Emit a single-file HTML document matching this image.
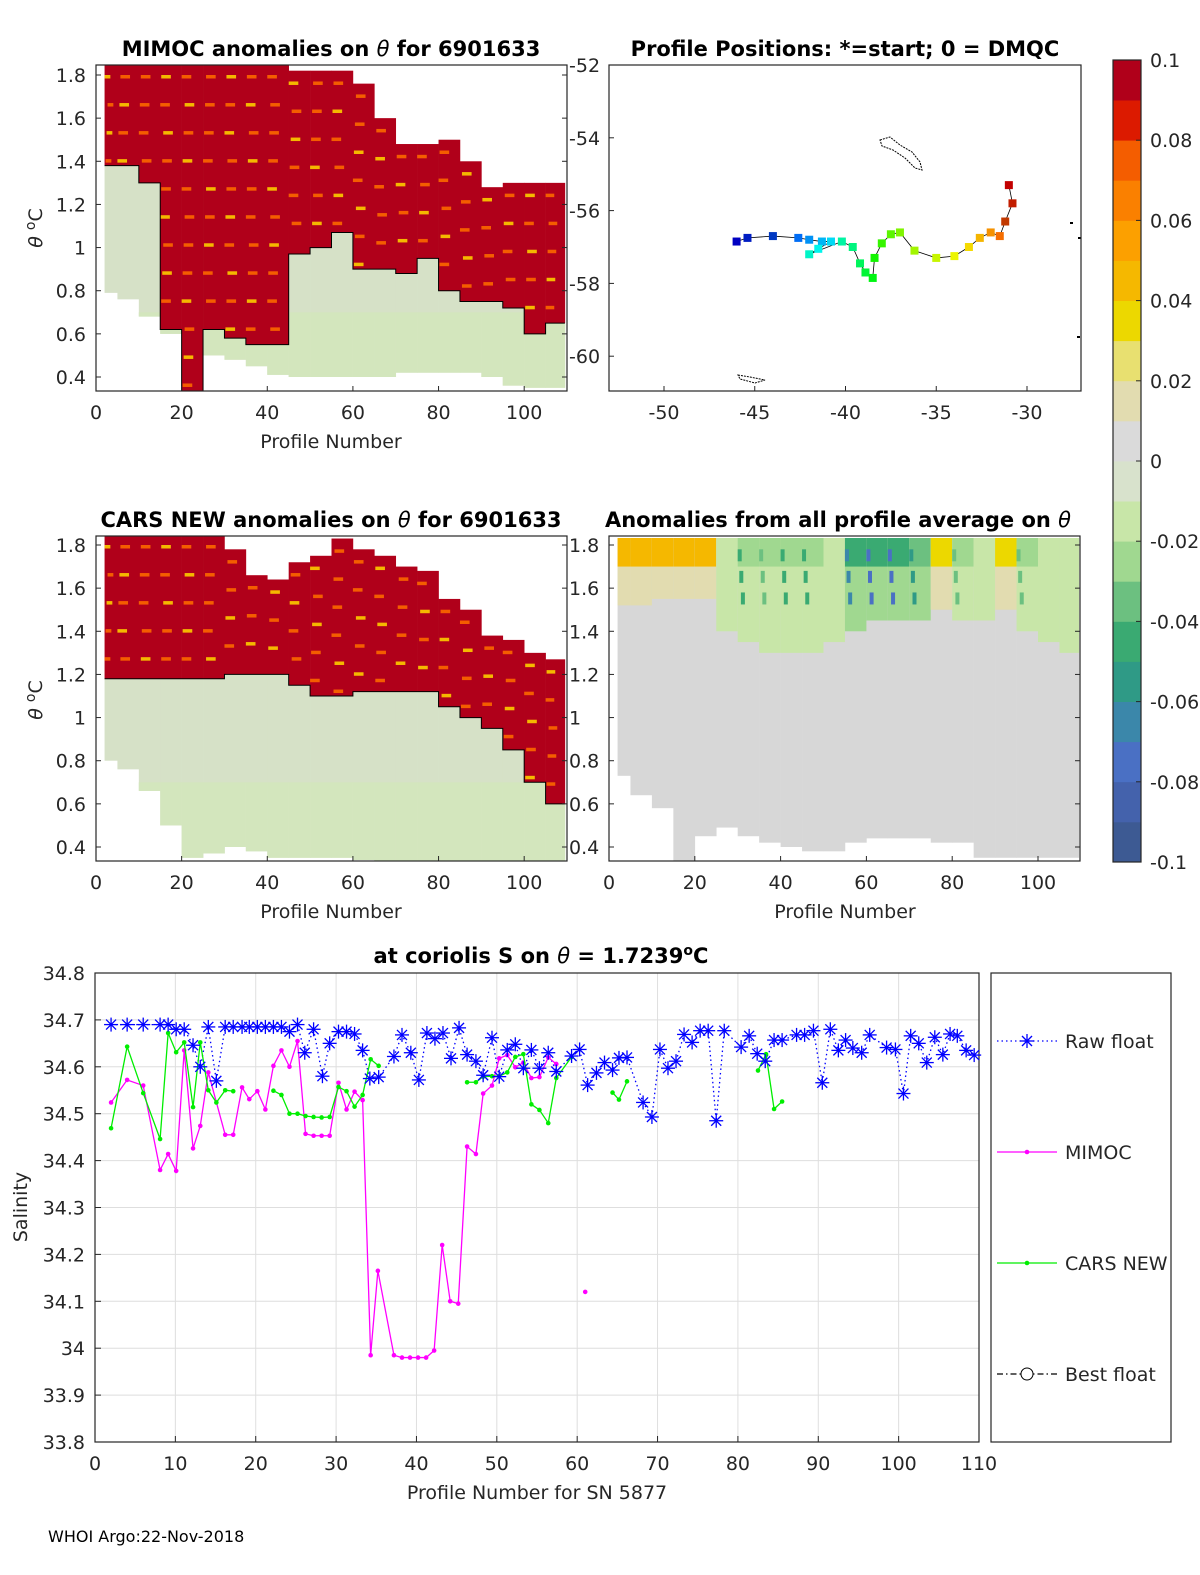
<!DOCTYPE html>
<html><head><meta charset="utf-8">
<style>
html,body{margin:0;padding:0;background:#fff;}
svg{display:block;font-family:"DejaVu Sans","Liberation Sans",sans-serif;}
.t{font-size:19px;fill:#262626;}
.ti{font-size:21px;font-weight:bold;fill:#000;}
</style></head>
<body>
<svg id="fig" width="1200" height="1575" viewBox="0 0 1200 1575" xmlns="http://www.w3.org/2000/svg">
<text class="ti" x="331" y="56" text-anchor="middle">MIMOC anomalies on <tspan font-style="italic" font-weight="normal">θ</tspan>  for 6901633</text>
<text class="ti" x="845" y="56" text-anchor="middle">Profile Positions: *=start; 0 = DMQC</text>
<text class="ti" x="331" y="527" text-anchor="middle">CARS NEW anomalies on <tspan font-style="italic" font-weight="normal">θ</tspan> for 6901633</text>
<text class="ti" x="838" y="527" text-anchor="middle">Anomalies from all profile average on <tspan font-style="italic" font-weight="normal">θ</tspan></text>
<text class="ti" x="541" y="963" text-anchor="middle">at coriolis S on <tspan font-style="italic" font-weight="normal">θ</tspan> = 1.7239<tspan dy="-8" font-size="14">o</tspan><tspan dy="8">C</tspan></text>
<text class="t" x="331" y="448" text-anchor="middle" font-size="21">Profile Number</text>
<text class="t" x="331" y="918" text-anchor="middle" font-size="21">Profile Number</text>
<text class="t" x="845" y="918" text-anchor="middle" font-size="21">Profile Number</text>
<text class="t" transform="translate(42,228) rotate(-90)" text-anchor="middle" font-size="21"><tspan font-style="italic">θ</tspan> <tspan dy="-7" font-size="14">o</tspan><tspan dy="7">C</tspan></text>
<text class="t" transform="translate(42,700) rotate(-90)" text-anchor="middle" font-size="21"><tspan font-style="italic">θ</tspan> <tspan dy="-7" font-size="14">o</tspan><tspan dy="7">C</tspan></text>
<text class="t" transform="translate(27,1207) rotate(-90)" text-anchor="middle" font-size="21">Salinity</text>
<text class="t" x="537" y="1499" text-anchor="middle" font-size="21">Profile Number for SN 5877</text>
<text x="48" y="1542" font-size="16" fill="#000">WHOI Argo:22-Nov-2018</text>
<g id="layer"></g>
</svg>
<script>
// ---------- data ----------
const binStarts=[0,5,10,15,20,25,30,35,40,45,50,55,60,65,70,75,80,85,90,95,100,105];
const p1Top=[1.85,1.85,1.85,1.85,1.85,1.85,1.85,1.85,1.85,1.82,1.82,1.82,1.76,1.6,1.48,1.48,1.5,1.4,1.28,1.3,1.3,1.3];
const p1Bottom=[0.79,0.76,0.68,0.6,0.33,0.5,0.48,0.45,0.41,0.4,0.4,0.4,0.4,0.4,0.42,0.42,0.42,0.42,0.4,0.36,0.35,0.35];
const p1Red=[1.38,1.38,1.3,0.62,0.33,0.62,0.58,0.55,0.55,0.97,1.0,1.07,0.9,0.9,0.88,0.95,0.8,0.75,0.75,0.72,0.6,0.65];
const p3Top=[1.85,1.85,1.85,1.85,1.85,1.85,1.78,1.66,1.64,1.72,1.75,1.83,1.78,1.75,1.7,1.68,1.55,1.5,1.38,1.36,1.3,1.27];
const p3Bottom=[0.8,0.76,0.66,0.5,0.35,0.37,0.4,0.38,0.35,0.35,0.35,0.35,0.34,0.33,0.33,0.33,0.33,0.33,0.33,0.33,0.33,0.33];
const p3Red=[1.18,1.18,1.18,1.18,1.18,1.18,1.2,1.2,1.2,1.15,1.1,1.1,1.12,1.12,1.12,1.12,1.05,1.0,0.95,0.85,0.7,0.6];
const p4Bottom=[0.73,0.64,0.58,0.33,0.45,0.49,0.45,0.42,0.4,0.38,0.38,0.42,0.44,0.44,0.44,0.42,0.42,0.35,0.35,0.35,0.35,0.35];
const p4TopVal=[0.045,0.045,0.045,0.045,0.045,-0.03,-0.05,-0.04,-0.05,-0.05,-0.03,-0.07,-0.08,-0.08,-0.06,0.03,-0.04,-0.03,0.03,-0.04,-0.03,-0.03];
const p4BandBottom=[1.52,1.52,1.55,1.55,1.55,1.4,1.35,1.3,1.3,1.3,1.35,1.4,1.45,1.45,1.45,1.5,1.45,1.45,1.5,1.4,1.35,1.3];
const trackLon=[-46.0,-45.4,-44.0,-42.6,-42.0,-41.3,-40.8,-41.5,-42.0,-40.2,-39.6,-39.2,-38.9,-38.5,-38.4,-38.0,-37.5,-37.0,-36.2,-35.0,-34.0,-33.2,-32.6,-32.0,-31.5,-31.2,-30.8,-31.0];
const trackLat=[-56.85,-56.75,-56.7,-56.75,-56.8,-56.85,-56.85,-57.05,-57.2,-56.85,-57.0,-57.45,-57.7,-57.85,-57.3,-56.9,-56.65,-56.6,-57.1,-57.3,-57.25,-57.0,-56.75,-56.6,-56.7,-56.3,-55.8,-55.3];
const catTicks=[0,10,20,30,40,50,60,70,80,90,100,110];
const salTicks=[33.8,33.9,34,34.1,34.2,34.3,34.4,34.5,34.6,34.7,34.8];
const rawX=[2,4,6,8.1,9.1,10.1,11.1,12.2,13.1,14.1,15.1,16.2,17.2,18.3,19.2,20.2,21.2,22.2,23.2,24.2,25.2,26.1,27.2,28.3,29.2,30.3,31.3,32.3,33.3,34.2,35.3,37.2,38.2,39.3,40.3,41.3,42.3,43.3,44.3,45.3,46.3,47.4,48.3,49.4,50.3,51.3,52.3,53.3,54.3,55.3,56.4,57.4,59.3,60.3,61.3,62.4,63.4,64.4,65.2,66.2,68.2,69.3,70.3,71.3,72.3,73.3,74.3,75.3,76.3,77.3,78.3,80.4,81.4,82.4,83.4,84.5,85.5,87.3,88.3,89.4,90.5,91.5,92.5,93.4,94.3,95.4,96.4,98.5,99.6,100.6,101.5,102.5,103.5,104.5,105.5,106.4,107.3,108.4,109.4];
const rawS=[34.69,34.69,34.69,34.69,34.69,34.68,34.68,34.646,34.6,34.685,34.57,34.685,34.685,34.685,34.685,34.685,34.685,34.685,34.685,34.675,34.69,34.63,34.68,34.58,34.65,34.675,34.675,34.67,34.635,34.575,34.578,34.622,34.668,34.63,34.572,34.672,34.66,34.672,34.618,34.683,34.626,34.612,34.582,34.662,34.579,34.636,34.648,34.597,34.636,34.597,34.63,34.59,34.623,34.637,34.561,34.587,34.609,34.593,34.619,34.62,34.524,34.493,34.637,34.597,34.612,34.669,34.652,34.677,34.677,34.485,34.677,34.642,34.666,34.628,34.612,34.657,34.657,34.668,34.668,34.677,34.566,34.68,34.635,34.657,34.64,34.63,34.668,34.641,34.637,34.543,34.666,34.65,34.609,34.663,34.626,34.67,34.666,34.635,34.625];
const mimX=[2,4,6,8.1,9.1,10.1,11.1,12.2,13.1,14.1,16.2,17.2,18.3,19.2,20.2,21.2,22.2,23.2,24.2,25.2,26.2,27.2,28.2,29.2,30.3,31.3,32.3,33.3,34.3,35.2,37.2,38.2,39.2,40.2,41.2,42.2,43.2,44.2,45.2,46.3,47.4,48.3,49.4,50.3,51.3,52.3,53.3,54.3,55.3,56.4,57.4,null,61.0];
const mimS=[34.524,34.572,34.56,34.38,34.414,34.378,34.635,34.426,34.474,34.588,34.455,34.455,34.556,34.531,34.548,34.509,34.602,34.635,34.6,34.655,34.457,34.453,34.453,34.453,34.566,34.509,34.547,34.529,33.985,34.165,33.985,33.98,33.98,33.98,33.98,33.995,34.22,34.1,34.095,34.43,34.414,34.543,34.56,34.618,34.625,34.599,34.609,34.576,34.578,34.62,34.606,null,34.12];
const carsX=[2,4,6,8.1,9.1,10.1,11.1,12.2,13.1,14.1,15.1,16.2,17.2,null,22.2,23.2,24.2,25.2,26.2,27.2,28.2,29.2,30.3,31.3,32.3,33.3,34.3,35.3,null,46.3,47.4,48.3,49.4,50.3,51.3,52.3,53.3,54.3,55.3,56.4,57.4,59.3,null,64.4,65.2,66.2,null,82.5,83.5,84.5,85.5];
const carsS=[34.469,34.643,34.544,34.446,34.672,34.631,34.652,34.514,34.652,34.55,34.524,34.55,34.548,null,34.549,34.54,34.5,34.5,34.495,34.493,34.492,34.493,34.557,34.548,34.515,34.54,34.616,34.602,null,34.567,34.567,34.579,34.58,34.58,34.588,34.621,34.627,34.52,34.508,34.48,34.576,34.621,null,34.545,34.53,34.569,null,34.592,34.627,34.51,34.526];

// ---------- helpers ----------
const NS="http://www.w3.org/2000/svg";
const layer=document.getElementById('layer');
function mk(tag,attrs,parent){const e=document.createElementNS(NS,tag);for(const k in attrs)e.setAttribute(k,attrs[k]);(parent||layer).appendChild(e);return e;}
const cmap=['#3d5a93','#4462ac','#4a70c4','#3b87aa','#2f9a86','#3aaa72','#6cc080','#a0d890','#c8e6a8','#d8e2cc','#dadada','#e2dcb0','#e8e070','#ecd800','#f5b800','#fca000','#fa8000','#f45d00','#dc1a00','#b0001a'];
function col(v){let i=Math.floor((v+0.1)/0.01);i=Math.max(0,Math.min(19,i));return cmap[i];}

function panel(x0,x1,y0,y1,name){
  const g=mk('g',{});
  
  
  return g;
}
function frame(g,x0,y0,x1,y1){mk('rect',{x:x0,y:y0,width:x1-x0,height:y1-y0,fill:'none',stroke:'#262626','stroke-width':1.2},g);}

// ---------- anomaly panels ----------
function anomalyPanel(name,L,R,T,B,yA,yB,tops,bots,reds,leftLabels){
  const g=panel(L,R,T,B,name);
  const xs=p=>L+p*(R-L)/110;
  const ys=t=>yA+(1.8-t)*(yB-yA)/1.4;
  const clampY=y=>Math.max(T,Math.min(B,y));
  const cells=mk('g',{},g);
  
  
  let line=[];
  binStarts.forEach((b,i)=>{
    const p0=Math.max(b,2), p1=Math.min(b+5,109.5);
    const x=xs(p0), w=xs(p1)-x;
    const yt=clampY(ys(tops[i])), yb=clampY(ys(bots[i]));
    const yr=clampY(ys(reds[i]));
    const c1=mk('rect',{x:x,y:yr,width:w+0.3,height:Math.max(0,yb-yr),fill:'#d6e1c7'},cells);
    
    
    const lowG=clampY(ys(0.7));
    if(lowG<yb){const c3=mk('rect',{x:x,y:Math.max(lowG,yr),width:w+0.3,height:Math.max(0,yb-Math.max(lowG,yr)),fill:'#d3e6bd'},cells);
      
      }
    const c2=mk('rect',{x:x,y:yt,width:w+0.3,height:Math.max(0,yr-yt),fill:'#b0001a'},cells);
    
    
    // orange speckle rows
    for(let t=tops[i]-0.05;t>reds[i]+0.03;t-=0.13){
      const yy=ys(t); if(yy<T||yy>B) continue;
      const s=mk('rect',{x:x+((i*7+Math.round(t*100))%4),y:yy,width:w*0.45,height:3.5,fill:((i+Math.round(t*10))%3==0)?'#f5b800':'#f45d00'},cells);
      
      
    }
    line.push([x,yr],[x+w,yr]);
  });
  mk('polyline',{points:line.map(p=>p.join(',')).join(' '),fill:'none',stroke:'#000','stroke-width':1},g);
  frame(g,L,T,R,B);
  axesTicks(g,L,R,T,B,xs,ys,leftLabels);
}
function axesTicks(g,L,R,T,B,xs,ys,leftLabels){
  [0,20,40,60,80,100].forEach(v=>{
    const x=xs(v);
    mk('line',{x1:x,y1:B,x2:x,y2:B-5,stroke:'#262626'},g);
    const t=mk('text',{x:x,y:B+28,'text-anchor':'middle',class:'t'},g);t.textContent=v;
    
    
  });
  [0.4,0.6,0.8,1,1.2,1.4,1.6,1.8].forEach(v=>{
    const y=ys(v);
    mk('line',{x1:L,y1:y,x2:L+5,y2:y,stroke:'#262626'},g);
    mk('line',{x1:R,y1:y,x2:R-5,y2:y,stroke:'#262626'},g);
    const t=mk('text',{x:leftLabels?L-10:L-38,y:y+7,'text-anchor':leftLabels?'end':'start',class:'t'},g);
    t.textContent=(v===1?'1':v.toFixed(1));
    if(!leftLabels) t.setAttribute('x',L-40);
    
    
  });
}
anomalyPanel('mimoc-anomaly-panel',96,567,65,391,75,377,p1Top,p1Bottom,p1Red,true);
anomalyPanel('cars-anomaly-panel',96,567,536,861,545,847,p3Top,p3Bottom,p3Red,true);

// panel 4
(function(){
  const L=609,R=1080,T=536,B=861;
  const g=panel(L,R,T,B,'avg-anomaly-panel');
  const xs=p=>L+p*(1038-609)/100;
  const ys=t=>545+(1.8-t)*(847-545)/1.4;
  const clampY=y=>Math.max(T,Math.min(B,y));
  binStarts.forEach((b,i)=>{
    const p0=Math.max(b,2), p1=Math.min(b+5,109.5);
    const x=xs(p0), w=xs(p1)-x;
    const yb=clampY(ys(p4Bottom[i])), yt=T+2;
    const c=mk('rect',{x:x,y:yt,width:w+0.3,height:yb-yt,fill:'#d7d7d7'},g);
    
    
    const yBand=clampY(ys(p4BandBottom[i]));
    const c2=mk('rect',{x:x,y:yt,width:w+0.3,height:yBand-yt,fill:col(p4TopVal[i]*0.35)},g);
    
    
    const c3=mk('rect',{x:x,y:yt,width:w+0.3,height:clampY(ys(1.7))-yt,fill:col(p4TopVal[i]*(p4TopVal[i]>0?1:0.6))},g);
    
    
    if(p4TopVal[i]<-0.035){
      for(let k=0;k<3;k++){
        const bc=mk('rect',{x:x+k*1.6,y:ys(1.78-k*0.1),width:4,height:12,fill:col(p4TopVal[i])},g);
        
        
      }
    }
  });
  frame(g,L,T,R,B);
  axesTicks(g,L,R,T,B,xs,ys,false);
})();

// map panel
(function(){
  const L=609,R=1081,T=65,B=391;
  const g=panel(L,R,T,B,'profile-map-panel');
  const xs=lon=>664+(lon+50)*18.15;
  const ys=lat=>65+(-52-lat)*36.4;
  mk('polyline',{points:trackLon.map((lo,i)=>xs(lo)+','+ys(trackLat[i])).join(' '),fill:'none',stroke:'#000','stroke-width':0.8},g);
  const jet=['#0000a0','#0010d0','#0040ff','#0070ff','#00a0ff','#00d0ff','#20f0e0','#60ff a0','#a0ff60','#e0ff20','#ffd000','#ffa000','#ff6000','#ff2000','#d00000','#a00000'];
  trackLon.forEach((lo,i)=>{
    const f=i/(trackLon.length-1);
    const h=240-240*f;
    const r=mk('rect',{x:xs(lo)-4,y:ys(trackLat[i])-4,width:8,height:8,fill:`hsl(${h},100%,${f>0.9||f<0.1?38:48}%)`},g);
    
    
  });
  mk('path',{d:'M880,140 L890,137 L900,145 L912,152 L920,162 L922,170 L915,168 L905,158 L893,150 L882,146 Z',fill:'none',stroke:'#000','stroke-width':1,'stroke-dasharray':'2 1'},g);
  mk('path',{d:'M738,375 L750,377 L765,380 L755,383 L740,379 Z',fill:'none',stroke:'#000','stroke-width':1,'stroke-dasharray':'2 1'},g);
  [[1070,222],[1078,237],[1077,336]].forEach(p=>mk('rect',{x:p[0],y:p[1],width:3,height:2,fill:'#000'},g));
  frame(g,L,T,R,B);
  [-50,-45,-40,-35,-30].forEach(v=>{
    const x=xs(v);
    mk('line',{x1:x,y1:B,x2:x,y2:B-5,stroke:'#262626'},g);
    const t=mk('text',{x:x,y:B+28,'text-anchor':'middle',class:'t'},g);t.textContent=v;
    
    
  });
  [-52,-54,-56,-58,-60].forEach(v=>{
    const y=ys(v);
    mk('line',{x1:L,y1:y,x2:L+5,y2:y,stroke:'#262626'},g);
    const t=mk('text',{x:L-40,y:y+7,class:'t'},g);t.textContent=v;
    
    
  });
})();

// colorbar
(function(){
  const g=panel(0,0,0,0,'colorbar');
  const T=60,B=862,L=1113,W=28;
  cmap.forEach((c,i)=>{
    const h=(B-T)/20;
    const r=mk('rect',{x:L,y:B-(i+1)*h,width:W,height:h+0.4,fill:c},g);
    
    
  });
  frame(g,L,T,L+W,B);
  const labs=['-0.1','-0.08','-0.06','-0.04','-0.02','0','0.02','0.04','0.06','0.08','0.1'];
  labs.forEach((s,i)=>{
    const y=B-i*(B-T)/10;
    mk('line',{x1:L+W,y1:y,x2:L+W-5,y2:y,stroke:'#262626'},g);
    const t=mk('text',{x:1150,y:y+7,class:'t'},g);t.textContent=s;
    
    
  });
})();

// salinity chart
(function(){
  const L=95,R=979,T=973,B=1442;
  const g=panel(L,R,T,B,'salinity-chart');
  const xs=v=>L+v*(R-L)/110;
  const ys=v=>B-(v-33.8)*(B-T)/1.0;
  catTicks.forEach(v=>{
    const x=xs(v);
    mk('line',{x1:x,y1:T,x2:x,y2:B,stroke:'#dedede'},g);
    mk('line',{x1:x,y1:B,x2:x,y2:B-6,stroke:'#262626'},g);
    const t=mk('text',{x:x,y:B+28,'text-anchor':'middle',class:'t'},g);t.textContent=v;
    
    
  });
  salTicks.forEach(v=>{
    const y=ys(v);
    mk('line',{x1:L,y1:y,x2:R,y2:y,stroke:'#dedede'},g);
    mk('line',{x1:L,y1:y,x2:L+6,y2:y,stroke:'#262626'},g);
    const t=mk('text',{x:L-10,y:y+7,'text-anchor':'end',class:'t'},g);
    t.textContent=(Math.abs(v-34)<1e-9)?'34':v.toFixed(1);
    
    
  });
  frame(g,L,T,R,B);
  function segs(X,Y){const out=[];let cur=[];X.forEach((x,i)=>{if(x===null||Y[i]===null){if(cur.length)out.push(cur);cur=[];}else cur.push([xs(x),ys(Y[i])]);});if(cur.length)out.push(cur);return out;}
  // raw float
  const rl=mk('polyline',{points:rawX.map((x,i)=>xs(x)+','+ys(rawS[i])).join(' '),fill:'none',stroke:'#0000ff','stroke-width':1.3,'stroke-dasharray':'1.5 3'},g);
  
  
  // magenta
  segs(mimX,mimS).forEach(s=>{
    const p=mk('polyline',{points:s.map(q=>q.join(',')).join(' '),fill:'none',stroke:'#ff00ff','stroke-width':1.3},g);
    
    
    s.forEach(q=>{const c=mk('circle',{cx:q[0],cy:q[1],r:2.3,fill:'#ff00ff'},g);
      
      });
  });
  segs(carsX,carsS).forEach(s=>{
    const p=mk('polyline',{points:s.map(q=>q.join(',')).join(' '),fill:'none',stroke:'#00ee00','stroke-width':1.3},g);
    
    
    s.forEach(q=>{const c=mk('circle',{cx:q[0],cy:q[1],r:2.3,fill:'#00ee00'},g);
      
      });
  });
  function star(x,y,parent){
    const s=mk('g',{stroke:'#0000ff','stroke-width':1.3},parent);
    
    
    const r=7,d=5;
    mk('line',{x1:x-r,y1:y,x2:x+r,y2:y},s);mk('line',{x1:x,y1:y-r,x2:x,y2:y+r},s);
    mk('line',{x1:x-d,y1:y-d,x2:x+d,y2:y+d},s);mk('line',{x1:x-d,y1:y+d,x2:x+d,y2:y-d},s);
  }
  rawX.forEach((x,i)=>star(xs(x),ys(rawS[i]),g));
  // legend
  const lg=mk('g',{},layer);
  
  
  mk('rect',{x:991,y:973,width:180,height:469,fill:'#fff',stroke:'#262626','stroke-width':1.2},lg);
  const ent=[['Raw float',1041],['MIMOC',1152],['CARS NEW',1263],['Best float',1374]];
  ent.forEach((e,i)=>{
    const y=e[1];
    const eg=mk('g',{},lg);
    
    
    if(i===0){mk('line',{x1:997,y1:y,x2:1057,y2:y,stroke:'#0000ff','stroke-dasharray':'1.5 3','stroke-width':1.3},eg);star(1027,y,eg);}
    if(i===1){mk('line',{x1:997,y1:y,x2:1057,y2:y,stroke:'#ff00ff','stroke-width':1.3},eg);mk('circle',{cx:1027,cy:y,r:2.3,fill:'#ff00ff'},eg);}
    if(i===2){mk('line',{x1:997,y1:y,x2:1057,y2:y,stroke:'#00ee00','stroke-width':1.3},eg);mk('circle',{cx:1027,cy:y,r:2.3,fill:'#00ee00'},eg);}
    if(i===3){mk('line',{x1:997,y1:y,x2:1057,y2:y,stroke:'#000','stroke-dasharray':'6 3 1.5 3','stroke-width':1.2},eg);mk('circle',{cx:1027,cy:y,r:6,fill:'#fff',stroke:'#000'},eg);}
    const t=mk('text',{x:1065,y:y+7,class:'t'},eg);t.textContent=e[0];t.setAttribute('fill','#000');
  });
})();
</script>
</body></html>
